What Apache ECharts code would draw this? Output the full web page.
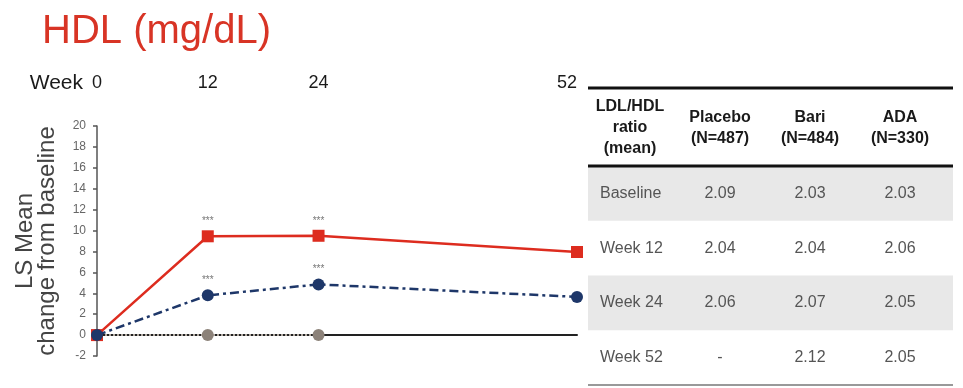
<!DOCTYPE html>
<html>
<head>
<meta charset="utf-8">
<title>HDL (mg/dL)</title>
<script src="https://cdn.jsdelivr.net/npm/echarts@6/dist/echarts.min.js"></script>
<style>
  html, body { margin: 0; padding: 0; background: #fff; }
  #chart { width: 963px; height: 388px; }
</style>
</head>
<body>
<div id="chart"></div>
<script>
// Study weeks shown on the time axis
const weeks = [0, 12, 24, 52];
const weekTicks = [0, 12, 24, 52];

// LS mean change from baseline in HDL (mg/dL)
const placeboWeeks = [0, 12, 24];
const placeboChange = [0, 0, 0];
const bariChange = [0, 9.45, 9.5, 7.95];
const adaChange = [0, 3.8, 4.85, 3.65];

// Significance markers per visit
const bariSig = ['', '***', '***', ''];
const adaSig = ['', '***', '***', ''];

// LDL/HDL ratio table
const tableHeaders = ['LDL/HDL\nratio\n(mean)', 'Placebo\n(N=487)', 'Bari\n(N=484)', 'ADA\n(N=330)'];
const tableRows = ['Baseline', 'Week 12', 'Week 24', 'Week 52'];
const placeboRatio = ['2.09', '2.04', '2.06', '-'];
const bariRatio = ['2.03', '2.04', '2.07', '2.12'];
const adaRatio = ['2.03', '2.06', '2.05', '2.05'];

const FONT = "'Liberation Sans', Arial, sans-serif";
const RED = '#dd2c1f';
const NAVY = '#1e3769';
const TAUPE = '#8c8279';

const chart = echarts.init(document.getElementById('chart'), null, { renderer: 'canvas' });

const cellData = [];
tableRows.forEach((row, r) => {
  cellData.push([0, r, row]);
  cellData.push([1, r, placeboRatio[r]]);
  cellData.push([2, r, bariRatio[r]]);
  cellData.push([3, r, adaRatio[r]]);
});
const bandData = tableRows.map((row, r) => [0, r]);

const option = {
  animation: false,
  backgroundColor: '#ffffff',
  textStyle: { fontFamily: FONT },
  title: {
    text: 'HDL (mg/dL)',
    left: 42,
    top: 12,
    padding: 0,
    textStyle: { fontSize: 40, fontWeight: 'normal', color: '#d83425', fontFamily: FONT }
  },
  grid: [
    { left: 97, right: 386, top: 126, bottom: 32 },
    { left: 585, width: 360, top: 166, height: 219 }
  ],
  xAxis: [
    {
      gridIndex: 0,
      type: 'value',
      position: 'top',
      min: 0,
      max: 52,
      offset: 43,
      name: 'Week',
      nameLocation: 'start',
      nameGap: 14,
      nameTextStyle: { fontSize: 21, color: '#1a1a1a', fontFamily: FONT, verticalAlign: 'middle', align: 'right' },
      axisLine: { show: false, onZero: false },
      axisTick: { show: false },
      splitLine: { show: false },
      axisLabel: {
        customValues: weekTicks,
        margin: 0,
        verticalAlign: 'middle',
        alignMaxLabel: 'right',
        fontSize: 18,
        color: '#1a1a1a',
        fontFamily: FONT
      }
    },
    {
      gridIndex: 0,
      type: 'value',
      position: 'bottom',
      min: 0,
      max: 52,
      axisLine: { show: true, onZero: true, lineStyle: { color: '#222', width: 2 } },
      axisTick: { show: false },
      axisLabel: { show: false },
      splitLine: { show: false }
    },
    {
      gridIndex: 1,
      type: 'category',
      position: 'top',
      data: tableHeaders,
      axisLine: { show: false },
      axisTick: { show: false },
      splitLine: { show: false },
      axisLabel: {
        interval: 0,
        margin: 38,
        verticalAlign: 'middle',
        fontSize: 16,
        lineHeight: 21,
        fontWeight: 'bold',
        color: '#1a1a1a',
        fontFamily: FONT
      }
    }
  ],
  yAxis: [
    {
      gridIndex: 0,
      type: 'value',
      min: -2,
      max: 20,
      interval: 2,
      name: 'LS Mean\nchange from baseline',
      nameLocation: 'middle',
      nameRotate: 90,
      nameGap: 39,
      nameTextStyle: { fontSize: 24, lineHeight: 22, color: '#444', fontFamily: FONT, padding: [0, 0, 0, 0] },
      axisLine: { show: true, onZero: false, lineStyle: { color: '#555', width: 1.5 } },
      axisTick: { show: true, length: 4, lineStyle: { color: '#555', width: 1.5 } },
      splitLine: { show: false },
      axisLabel: {
        margin: 11,
        fontSize: 12,
        color: '#666',
        fontFamily: "'Liberation Sans Narrow', 'Liberation Sans', Arial, sans-serif"
      }
    },
    {
      gridIndex: 1,
      type: 'category',
      data: tableRows,
      inverse: true,
      show: false
    }
  ],
  graphic: [
    { type: 'line', shape: { x1: 588, y1: 88, x2: 953, y2: 88 }, style: { stroke: '#111', lineWidth: 3 }, z: 10 },
    { type: 'line', shape: { x1: 588, y1: 166, x2: 953, y2: 166 }, style: { stroke: '#111', lineWidth: 3 }, z: 10 },
    { type: 'line', shape: { x1: 588, y1: 385, x2: 953, y2: 385 }, style: { stroke: '#777', lineWidth: 1.5 }, z: 10 }
  ],
  series: [
    {
      name: 'Placebo',
      type: 'line',
      xAxisIndex: 0,
      yAxisIndex: 0,
      data: placeboWeeks.map((w, i) => [w, placeboChange[i]]),
      symbol: 'circle',
      symbolSize: 12,
      itemStyle: { color: TAUPE },
      lineStyle: { color: '#b0a8a0', width: 2, type: [2, 2] },
      z: 3
    },
    {
      name: 'Bari',
      type: 'line',
      xAxisIndex: 0,
      yAxisIndex: 0,
      data: weeks.map((w, i) => [w, bariChange[i]]),
      symbol: 'rect',
      symbolSize: 12,
      itemStyle: { color: RED },
      lineStyle: { color: RED, width: 2.5 },
      label: {
        show: true,
        position: 'top',
        distance: 4,
        formatter: p => bariSig[p.dataIndex],
        fontSize: 10,
        color: '#777',
        fontFamily: FONT
      },
      z: 4
    },
    {
      name: 'ADA',
      type: 'line',
      xAxisIndex: 0,
      yAxisIndex: 0,
      data: weeks.map((w, i) => [w, adaChange[i]]),
      symbol: 'circle',
      symbolSize: 12,
      itemStyle: { color: NAVY },
      lineStyle: { color: NAVY, width: 2.5, type: [9, 4, 3, 4] },
      label: {
        show: true,
        position: 'top',
        distance: 4,
        formatter: p => adaSig[p.dataIndex],
        fontSize: 10,
        color: '#777',
        fontFamily: FONT
      },
      z: 5
    },
    {
      // shaded bands on alternating table rows
      name: 'rowBands',
      type: 'custom',
      xAxisIndex: 2,
      yAxisIndex: 1,
      silent: true,
      data: bandData,
      renderItem: (params, api) => {
        const r = api.value(1);
        if (r % 2 !== 0) return null;
        const c = api.coord([0, r]);
        const h = api.size([1, 1])[1];
        const cs = params.coordSys;
        return {
          type: 'rect',
          shape: { x: cs.x + 3, y: c[1] - h / 2, width: cs.width + 5, height: h },
          style: { fill: '#e8e8e8' }
        };
      },
      z: 1
    },
    {
      // table cell text
      name: 'cells',
      type: 'custom',
      xAxisIndex: 2,
      yAxisIndex: 1,
      silent: true,
      data: cellData,
      renderItem: (params, api) => {
        const col = api.value(0);
        const row = api.value(1);
        const text = cellData[params.dataIndex][2];
        const c = api.coord([col, row]);
        const w = api.size([1, 1])[0];
        return {
          type: 'text',
          style: {
            x: col === 0 ? c[0] - w / 2 + 15 : c[0],
            y: c[1],
            text: text,
            fill: '#555',
            font: '16px ' + FONT,
            textAlign: col === 0 ? 'left' : 'center',
            textVerticalAlign: 'middle'
          }
        };
      },
      z: 6
    }
  ]
};

chart.setOption(option);
</script>
</body>
</html>
